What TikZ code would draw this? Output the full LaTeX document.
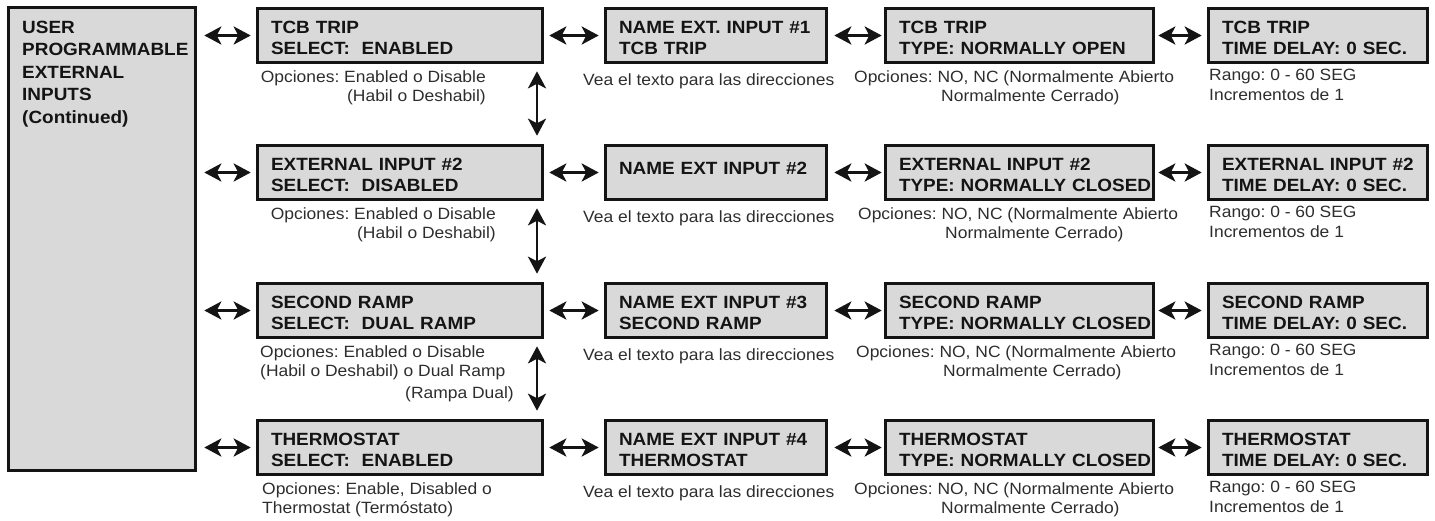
\documentclass[tikz,border=0pt]{standalone}
\usepackage{fontspec}
\setmainfont{Liberation Sans}[FakeStretch=1.07]
\usetikzlibrary{arrows.meta}
\definecolor{boxfill}{RGB}{217,217,217}
\definecolor{linec}{RGB}{20,20,20}
\definecolor{txtc}{RGB}{20,20,20}
\definecolor{annc}{RGB}{45,45,45}
\frenchspacing
\begin{document}
\begin{tikzpicture}[x=1pt,y=-1pt,
  pframe/.style={draw=linec, line width=2.6pt, fill=boxfill},
  pbox/.style={pframe, minimum height=54.4pt, inner xsep=13.7pt, inner ysep=0pt,
    align=left, text=txtc, font=\bfseries\fontsize{17.7pt}{21pt}\selectfont,
    execute at begin node={\hyphenpenalty=10000\exhyphenpenalty=10000\noindent\rule{0pt}{18pt}}},
  colA/.style={pbox, text width=258pt},
  colB/.style={pbox, text width=194pt},
  colC/.style={pbox, text width=241pt},
  colD/.style={pbox, text width=192pt},
  annot/.style={inner sep=0pt, text=annc, font=\fontsize{16.3pt}{19.5pt}\selectfont,
    execute at begin node={\rule{0pt}{15pt}}},
  dbl/.style={{Stealth[length=17pt,width=18pt,inset=4.5pt]}-{Stealth[length=17pt,width=18pt,inset=4.5pt]}, line width=2.8pt, draw=linec},
  hab/.style={dbl, shorten <=5.3pt, shorten >=5.3pt},
  vert/.style={dbl, shorten <=7.3pt, shorten >=8.3pt}
]
\useasboundingbox (0,0) rectangle (1435,520);

% left box
\node[pframe, minimum width=187.4pt, minimum height=463.4pt, inner sep=0pt] (L) at (102,239) {};
\node[inner sep=0pt, anchor=north west, align=left, text=txtc,
  font=\bfseries\fontsize{17.7pt}{22.5pt}\selectfont] (Lt) at (22,15)
  {\rule{0pt}{18pt}USER\\PROGRAMMABLE\\EXTERNAL\\INPUTS\\(Continued)};

% row 1
\node[colA] (a1) at (400,35.5) {TCB~TRIP\\SELECT:~~ENABLED};
\node[colB] (b1) at (716,35.5) {NAME~EXT.~INPUT~\#1\\TCB~TRIP};
\node[colC] (c1) at (1019.5,35.5) {TCB~TRIP\\\mbox{TYPE:~NORMALLY~OPEN}};
\node[colD] (d1) at (1318,35.5) {TCB~TRIP\\TIME~DELAY:~0~SEC.};
% row 2
\node[colA] (a2) at (400,172.5) {EXTERNAL~INPUT~\#2\\SELECT:~~DISABLED};
\node[colB] (b2) at (716,172.5) {NAME~EXT~INPUT~\#2\\[-6pt]\mbox{}};
\node[colC] (c2) at (1019.5,172.5) {EXTERNAL~INPUT~\#2\\\mbox{TYPE:~NORMALLY~CLOSED}};
\node[colD] (d2) at (1318,172.5) {EXTERNAL~INPUT~\#2\\TIME~DELAY:~0~SEC.};
% row 3
\node[colA] (a3) at (400,310.5) {SECOND~RAMP\\SELECT:~~DUAL~RAMP};
\node[colB] (b3) at (716,310.5) {NAME~EXT~INPUT~\#3\\SECOND~RAMP};
\node[colC] (c3) at (1019.5,310.5) {SECOND~RAMP\\\mbox{TYPE:~NORMALLY~CLOSED}};
\node[colD] (d3) at (1318,310.5) {SECOND~RAMP\\TIME~DELAY:~0~SEC.};
% row 4
\node[colA] (a4) at (400,447.5) {THERMOSTAT\\SELECT:~~ENABLED};
\node[colB] (b4) at (716,447.5) {NAME~EXT~INPUT~\#4\\THERMOSTAT};
\node[colC] (c4) at (1019.5,447.5) {THERMOSTAT\\\mbox{TYPE:~NORMALLY~CLOSED}};
\node[colD] (d4) at (1318,447.5) {THERMOSTAT\\TIME~DELAY:~0~SEC.};

% horizontal arrows
\foreach \r in {1,2,3,4}{
  \draw[dbl, shorten <=7.3pt, shorten >=5.3pt] (L.east |- a\r.west) -- (a\r.west);
  \draw[hab] (a\r.east) -- (b\r.west);
  \draw[dbl, shorten <=6.3pt, shorten >=2.3pt] (b\r.east) -- (c\r.west);
  \draw[dbl, shorten <=3.3pt, shorten >=5.3pt] (c\r.east) -- (d\r.west);
}

% vertical arrows
\coordinate (vx) at (537,0);
\draw[vert] (a1.south -| vx) -- (a2.north -| vx);
\draw[vert] (a2.south -| vx) -- (a3.north -| vx);
\draw[vert] (a3.south -| vx) -- (a4.north -| vx);

% annotations column A
\node[annot, align=right, anchor=north east] (na1) at (486,70) {Opciones: Enabled o Disable\\(Habil o Deshabil)};
\node[annot, align=right, anchor=north east] (na2) at (496,207) {Opciones: Enabled o Disable\\(Habil o Deshabil)};
\node[annot, align=left, anchor=north west] (na3) at (260,345) {Opciones: Enabled o Disable\\(Habil o Deshabil) o Dual Ramp};
\node[annot, anchor=base east] (na3b) at (514,398) {(Rampa Dual)};
\node[annot, align=left, anchor=north west] (na4) at (262,482) {Opciones: Enable, Disabled o\\Thermostat (Termóstato)};

% annotations column B
\node[annot, anchor=base west] (nb1) at (583,85) {Vea el texto para las direcciones};
\node[annot, anchor=base west] (nb2) at (583,222) {Vea el texto para las direcciones};
\node[annot, anchor=base west] (nb3) at (583,360) {Vea el texto para las direcciones};
\node[annot, anchor=base west] (nb4) at (583,497) {Vea el texto para las direcciones};

% annotations column C
\node[annot, align=left, anchor=north west] (nc1) at (854,70) {Opciones: NO, NC (Normalmente Abierto\\\hspace*{87pt}Normalmente Cerrado)};
\node[annot, align=left, anchor=north west] (nc2) at (858,207) {Opciones: NO, NC (Normalmente Abierto\\\hspace*{87pt}Normalmente Cerrado)};
\node[annot, align=left, anchor=north west] (nc3) at (856,345) {Opciones: NO, NC (Normalmente Abierto\\\hspace*{87pt}Normalmente Cerrado)};
\node[annot, align=left, anchor=north west] (nc4) at (854,482) {Opciones: NO, NC (Normalmente Abierto\\\hspace*{87pt}Normalmente Cerrado)};

% annotations column D
\node[annot, align=left, anchor=north west] (nd1) at (1209,69) {Rango: 0 - 60 SEG\\Incrementos de 1};
\node[annot, align=left, anchor=north west] (nd2) at (1209,206) {Rango: 0 - 60 SEG\\Incrementos de 1};
\node[annot, align=left, anchor=north west] (nd3) at (1209,344) {Rango: 0 - 60 SEG\\Incrementos de 1};
\node[annot, align=left, anchor=north west] (nd4) at (1209,481) {Rango: 0 - 60 SEG\\Incrementos de 1};
\end{tikzpicture}
\end{document}
